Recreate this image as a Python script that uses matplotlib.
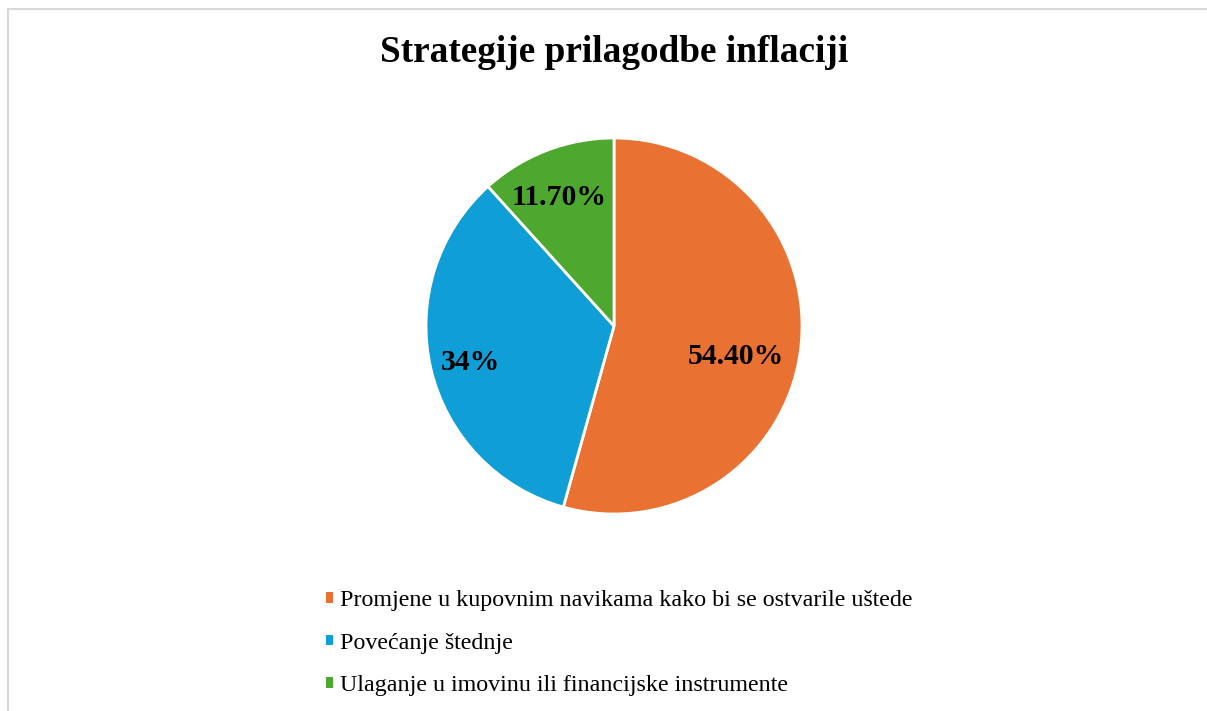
import numpy as np
import matplotlib.pyplot as plt
from matplotlib.patches import Rectangle

plt.rcParams['font.family'] = ['Liberation Serif', 'DejaVu Serif']

categories = ['Promjene u kupovnim navikama kako bi se ostvarile uštede',
              'Povećanje štednje',
              'Ulaganje u imovinu ili financijske instrumente']
values = [54.4, 34.0, 11.7]
value_labels = ['54.40%', '34%', '11.70%']
colors = ['#E97132', '#0F9ED5', '#4EA72E']

W, H = 1207, 711
fig = plt.figure(figsize=(W/100, H/100), dpi=100)

# light grey chart border (right/bottom edges run off the image)
fig.patches.append(Rectangle((8/W, -0.05), 1.1, (H-9)/H + 0.05, transform=fig.transFigure,
                             fill=False, edgecolor='#d9d9d9', linewidth=1.5))

fig.text(614/W, 1 - 52/H, 'Strategije prilagodbe inflaciji', ha='center', va='center',
         fontsize=26.8, fontweight='bold')

# pie axes: centre (614,326), radius 188 px
cx, cy, r = 614, 326, 188
ax = fig.add_axes([(cx-r)/W, (H-cy-r)/H, 2*r/W, 2*r/H])
wedges, _ = ax.pie(values, colors=colors, startangle=90, counterclock=False,
                   wedgeprops=dict(edgecolor='white', linewidth=2))
ax.set_xlim(-1, 1)
ax.set_ylim(-1, 1)
ax.set_aspect('equal')
ax.axis('off')

# label placement: distance from centre and small angle shift per slice
dist = [0.67, 0.79, 0.74]
shift = [-6, 1, 2]
for w, lab, d, s in zip(wedges, value_labels, dist, shift):
    ang = np.deg2rad((w.theta1 + w.theta2)/2 + s)
    ax.text(d*np.cos(ang), d*np.sin(ang), lab, ha='center', va='center',
            fontsize=21.4, fontweight='bold')

fig.legend(wedges, categories, loc='upper left', bbox_to_anchor=(326/W, 1 - 590/H),
           frameon=False, fontsize=17.3, handlelength=0.3, handleheight=0.3,
           handletextpad=0.3, labelspacing=0.9, borderpad=0, borderaxespad=0)
for h in fig.legends[0].legend_handles:
    h.set_edgecolor('none')

fig.savefig('out.png', dpi=100)
